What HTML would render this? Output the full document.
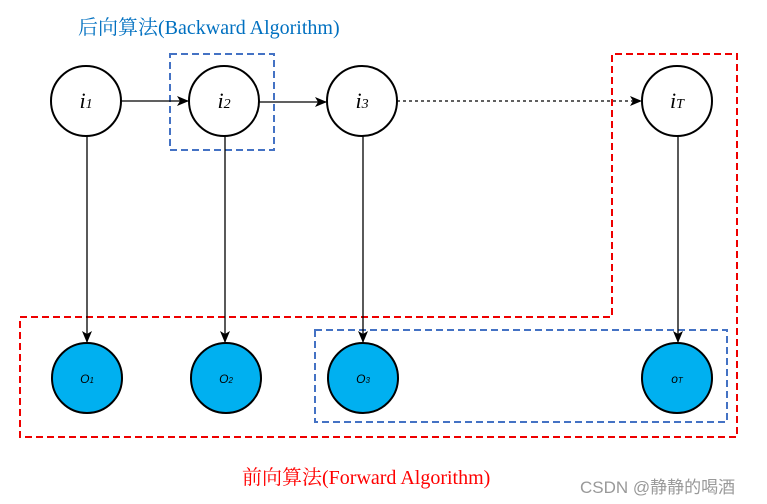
<!DOCTYPE html>
<html><head><meta charset="utf-8"><style>body{margin:0;background:#fff}</style></head><body>
<svg width="767" height="504" xmlns="http://www.w3.org/2000/svg" style="display:block">
<defs><marker id="a" markerWidth="12" markerHeight="10" refX="11" refY="5" orient="auto" markerUnits="userSpaceOnUse"><path d="M0,0 L12,5 L0,10 L3,5 z" fill="#000"/></marker></defs>
<rect width="767" height="504" fill="#fff"/>
<text x="78" y="34" font-family="Liberation Serif, Noto Serif CJK SC, serif" font-size="20" fill="#0070c0">后向算法(Backward Algorithm)</text>
<text x="242" y="484" font-family="Liberation Serif, Noto Serif CJK SC, serif" font-size="20" fill="#ff0000">前向算法(Forward Algorithm)</text>
<text x="580" y="493" font-family="Liberation Sans, Noto Sans CJK SC, sans-serif" font-size="17" fill="#999">CSDN @静静的喝酒</text>
<polyline points="20,317 612,317 612,54 737,54 737,437 20,437 20,317" fill="none" stroke="#e00" stroke-width="2" stroke-dasharray="7,4"/>
<rect x="170" y="54" width="104" height="96" fill="none" stroke="#4472c4" stroke-width="2" stroke-dasharray="7,4"/>
<rect x="315" y="330" width="412" height="92" fill="none" stroke="#4472c4" stroke-width="2" stroke-dasharray="7,4"/>
<g stroke="#000" stroke-width="1.3" fill="none">
<line x1="121" y1="101" x2="188" y2="101" marker-end="url(#a)"/>
<line x1="259" y1="102" x2="326" y2="102" marker-end="url(#a)"/>
<line x1="397" y1="101" x2="641" y2="101" stroke-dasharray="3,3" marker-end="url(#a)"/>
<line x1="87" y1="136" x2="87" y2="342" marker-end="url(#a)"/>
<line x1="225" y1="136" x2="225" y2="342" marker-end="url(#a)"/>
<line x1="363" y1="136" x2="363" y2="342" marker-end="url(#a)"/>
<line x1="678" y1="136" x2="678" y2="342" marker-end="url(#a)"/>
</g>
<g stroke="#000" stroke-width="2" fill="#fff">
<circle cx="86" cy="101" r="35"/><circle cx="224" cy="101" r="35"/><circle cx="362" cy="101" r="35"/><circle cx="677" cy="101" r="35"/>
</g>
<g stroke="#000" stroke-width="2" fill="#00b0f0">
<circle cx="87" cy="378" r="35"/><circle cx="226" cy="378" r="35"/><circle cx="363" cy="378" r="35"/><circle cx="677" cy="378" r="35"/>
</g>
<g font-family="Liberation Serif, serif" font-style="italic" font-size="22" text-anchor="middle">
<text x="86" y="108">i<tspan font-size="14">1</tspan></text>
<text x="224" y="108">i<tspan font-size="14">2</tspan></text>
<text x="362" y="108">i<tspan font-size="14">3</tspan></text>
<text x="677" y="108">i<tspan font-size="14">T</tspan></text>
</g>
<g font-family="Liberation Sans, sans-serif" font-style="italic" font-size="12" text-anchor="middle">
<text x="87" y="383">O<tspan font-size="8">1</tspan></text>
<text x="226" y="383">O<tspan font-size="8">2</tspan></text>
<text x="363" y="383">O<tspan font-size="8">3</tspan></text>
<text x="677" y="383">o<tspan font-size="8">T</tspan></text>
</g>
</svg>
</body></html>
